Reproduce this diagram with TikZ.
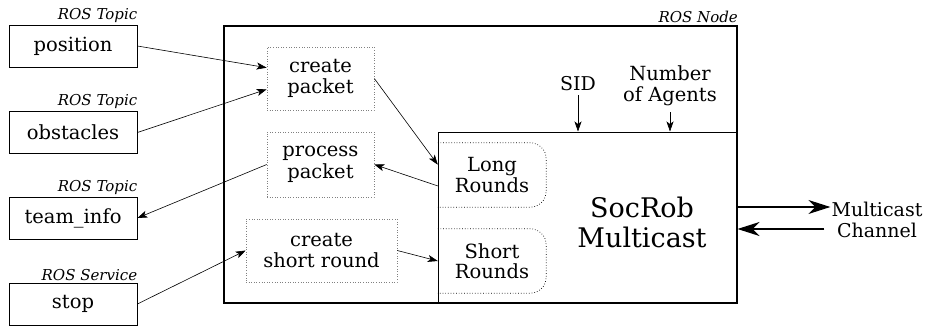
\documentclass[tikz,border=0pt]{standalone}
\usepackage{fontspec}
\setmainfont{DejaVu Serif}
\usetikzlibrary{calc,arrows.meta}
\begin{document}
\begin{tikzpicture}[x=1pt,y=-1pt,
  ext/.style={draw, line width=0.8pt, minimum width=128pt, minimum height=42pt, inner sep=0pt, font=\fontsize{19.5}{21}\selectfont},
  proc/.style={draw=gray, dotted, line width=0.6pt, align=center, inner sep=0pt, font=\fontsize{19.5}{21.5}\selectfont},
  lbl/.style={font=\itshape\fontsize{15}{17}\selectfont, inner xsep=0pt, inner ysep=2pt, anchor=south east},
  rnd/.style={align=center, inner sep=0pt, font=\fontsize{19.5}{20.5}\selectfont, minimum width=108pt, minimum height=64pt},
  plain/.style={align=center, inner sep=0pt, font=\fontsize{19.5}{20.5}\selectfont},
  arr/.style={-{Stealth[length=10pt,width=7pt,inset=2.5pt]}, line width=0.6pt},
  bigarr/.style={-{Stealth[length=22pt,width=14pt,inset=7pt]}, line width=1.3pt}
]
\useasboundingbox (0,0) rectangle (930,329);
% external topics
\node[ext] (pos) at (73,46) {position};
\node[lbl] at (pos.north east) {ROS Topic};
\node[ext] (obs) at (73,132.5) {obstacles};
\node[lbl] at (obs.north east) {ROS Topic};
\node[ext] (tm) at (73,218) {team\_info};
\node[lbl] at (tm.north east) {ROS Topic};
\node[ext] (stop) at (73,304) {stop};
\node[lbl] at (stop.north east) {ROS Service};
% ROS node
\node[draw, line width=2pt, minimum width=513pt, minimum height=277pt, inner sep=0pt] (rn) at (480.5,164.5) {};
\node[lbl] at (rn.north east) {ROS Node};
\node[draw, line width=1pt, minimum width=299pt, minimum height=171pt, inner sep=0pt] (sm) at (587.5,217.5) {};
\node[align=center, inner sep=0pt, font=\fontsize{27}{30}\selectfont] (smt) at (642,222) {SocRob\\Multicast};
% rounds
\node[rnd] (lr) at (492,175) {Long\\Rounds};
\draw[dotted, line width=0.7pt, rounded corners=16pt] (lr.north west) -- (lr.north east) -- (lr.south east) -- (lr.south west);
\node[rnd] (sr) at (492,261) {Short\\Rounds};
\draw[dotted, line width=0.7pt, rounded corners=16pt] (sr.north west) -- (sr.north east) -- (sr.south east) -- (sr.south west);
% processes
\node[proc, minimum width=107pt, minimum height=63pt] (cp) at (320.5,78.5) {create\\packet};
\node[proc, minimum width=107pt, minimum height=65pt] (pp) at (320.5,164.5) {process\\packet};
\node[proc, minimum width=151pt, minimum height=63pt] (csr) at (321.5,250.5) {create\\short round};
% parameters
\node[plain, inner sep=4pt, font=\fontsize{19}{20}\selectfont] (sid) at (578,84) {SID};
\node[plain, inner sep=6pt] (na) at (670,86) {Number\\of Agents};
\draw[arr] (sid.south) -- (sid.south |- sm.north);
\draw[arr] (na.south) -- (na.south |- sm.north);
% multicast channel
\node[align=center, inner sep=1pt, font=\fontsize{19}{21.5}\selectfont] (mc) at (877,220) {Multicast\\Channel};
\draw[bigarr] ($(sm.east)+(0,-10.5)$) -- ($(mc.west |- sm.east)+(0,-10.5)$);
\draw[bigarr] ($(mc.west |- sm.east)+(-6,11.5)$) -- ($(sm.east)+(0,11.5)$);
% connectors
\draw[arr] (pos.east) -- ($(cp.north west)!0.33!(cp.south west)$);
\draw[arr] (obs.east) -- ($(cp.north west)!0.67!(cp.south west)$);
\draw[arr] (pp.west) -- (tm.east);
\draw[arr] (stop.east) -- (csr.west);
\draw[arr] (cp.east) -- ($(lr.north west)!0.34!(lr.south west)$);
\draw[arr] ($(lr.north west)!0.67!(lr.south west)$) -- (pp.east);
\draw[arr] (csr.east) -- (sr.west);
\end{tikzpicture}
\end{document}
